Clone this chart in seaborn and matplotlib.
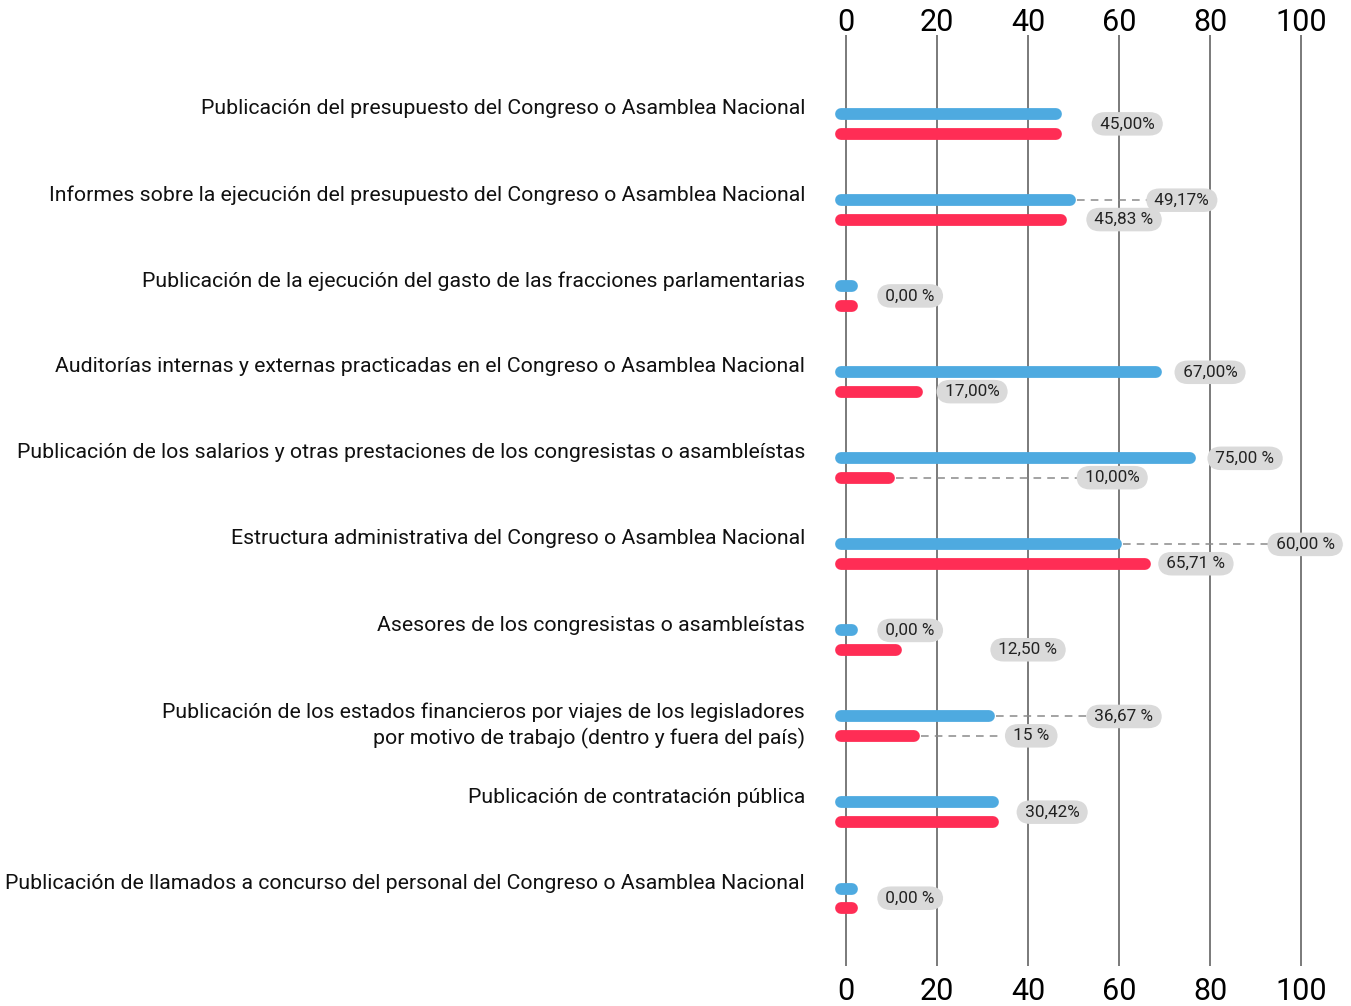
import pandas as pd
import matplotlib.pyplot as plt
import seaborn as sns

# datos
categorias = [
    "Publicación del presupuesto del Congreso o Asamblea Nacional",
    "Informes sobre la ejecución del presupuesto del Congreso o Asamblea Nacional",
    "Publicación de la ejecución del gasto de las fracciones parlamentarias",
    "Auditorías internas y externas practicadas en el Congreso o Asamblea Nacional",
    "Publicación de los salarios y otras prestaciones de los congresistas o asambleístas",
    "Estructura administrativa del Congreso o Asamblea Nacional",
    "Asesores de los congresistas o asambleístas",
    "Publicación de los estados financieros por viajes de los legisladores\npor motivo de trabajo (dentro y fuera del país)",
    "Publicación de contratación pública",
    "Publicación de llamados a concurso del personal del Congreso o Asamblea Nacional",
]
serie_azul = [46.2, 49.2, 0, 68.1, 75.6, 59.3, 0, 31.4, 32.3, 0]
serie_roja = [46.2, 47.3, 0, 15.6, 9.5, 65.7, 10.9, 14.9, 32.3, 0]
marcas_x = [0, 20, 40, 60, 80, 100]

# etiquetas de valor: (fila, texto, x, serie -> 'a' azul, 'r' roja, 'c' centro, linea punteada)
etiquetas = [
    (0, "45,00%", 61.8, "c", False),
    (1, "49,17%", 73.8, "a", True),
    (1, "45,83 %", 61.1, "r", False),
    (2, "0,00 %", 14.1, "c", False),
    (3, "67,00%", 80.0, "a", False),
    (3, "17,00%", 27.7, "r", False),
    (4, "75,00 %", 87.7, "a", False),
    (4, "10,00%", 58.5, "r", True),
    (5, "60,00 %", 100.9, "a", True),
    (5, "65,71 %", 76.9, "r", False),
    (6, "0,00 %", 14.1, "a", False),
    (6, "12,50 %", 40.0, "r", False),
    (7, "36,67 %", 61.1, "a", True),
    (7, "15 %", 40.7, "r", True),
    (8, "30,42%", 45.3, "c", False),
    (9, "0,00 %", 14.1, "c", False),
]

azul = "#4eaae0"
rojo = "#ff2d55"

df = pd.DataFrame({
    "categoria": categorias * 2,
    "valor": serie_azul + serie_roja,
    "serie": ["azul"] * len(categorias) + ["roja"] * len(categorias),
})

sns.set_theme(style="white")
plt.rcParams["font.family"] = ["Roboto", "DejaVu Sans"]

fig = plt.figure(figsize=(13.51, 10.06), dpi=100)
ax = fig.add_axes([0.6195, 0.040, 0.357, 0.925])

sns.barplot(data=df, y="categoria", x="valor", hue="serie", orient="h",
            palette={"azul": azul, "roja": rojo}, width=0.45, ax=ax,
            legend=False, errorbar=None, saturation=1)

# barras redondeadas en lugar de rectangulos
for p in list(ax.patches):
    yc = p.get_y() + p.get_height() / 2
    w = p.get_width()
    ax.plot([-1.0, max(w, 1.3)], [yc, yc], color=p.get_facecolor(), lw=8.5,
            solid_capstyle="round", zorder=3, clip_on=False)
    p.remove()

ax.set_xlim(-2, 104)
ax.set_ylim(9.785, -1.03)
ax.set_xticks(marcas_x)
ax.set_yticks([])
ax.set_xlabel("")
ax.set_ylabel("")
for s in ax.spines.values():
    s.set_visible(False)
ax.grid(False)
for x in marcas_x:
    ax.axvline(x, color="#707070", lw=1.3, zorder=1)
ax.tick_params(axis="x", length=0, labelsize=22, pad=8, colors="black")

# etiquetas del eje arriba
for x in marcas_x:
    ax.annotate(str(x), xy=(x, 1), xycoords=("data", "axes fraction"),
                xytext=(0, 3), textcoords="offset points",
                ha="center", va="baseline", fontsize=22, color="black",
                annotation_clip=False)

# textos de las categorias
for i, cat in enumerate(categorias):
    dy = 0 if "\n" in cat else -0.175
    ax.annotate(cat, xy=(0, i + dy), xycoords=("axes fraction", "data"),
                xytext=(-23, 0), textcoords="offset points",
                ha="right", va="center", fontsize=15.3, color="#111111",
                linespacing=1.35, annotation_clip=False)

# etiquetas de valor
desp = {"a": -0.1125, "r": 0.1125, "c": 0.0}
for fila, texto, x, pos, punteada in etiquetas:
    y = fila + desp[pos]
    ax.text(x, y, " " + texto + " ", ha="center", va="center", fontsize=12.3,
            color="#222222", zorder=5, clip_on=False,
            bbox=dict(boxstyle="round,pad=0.25,rounding_size=0.8",
                      fc="#dadada", ec="none"))
    if punteada:
        v = serie_azul[fila] if pos == "a" else serie_roja[fila]
        ax.plot([v + 1.5, x - 7], [y, y], color="#8a8a8a", lw=1.1,
                dashes=(5, 4), zorder=2, clip_on=False)

fig.savefig("out.png", dpi=100)
